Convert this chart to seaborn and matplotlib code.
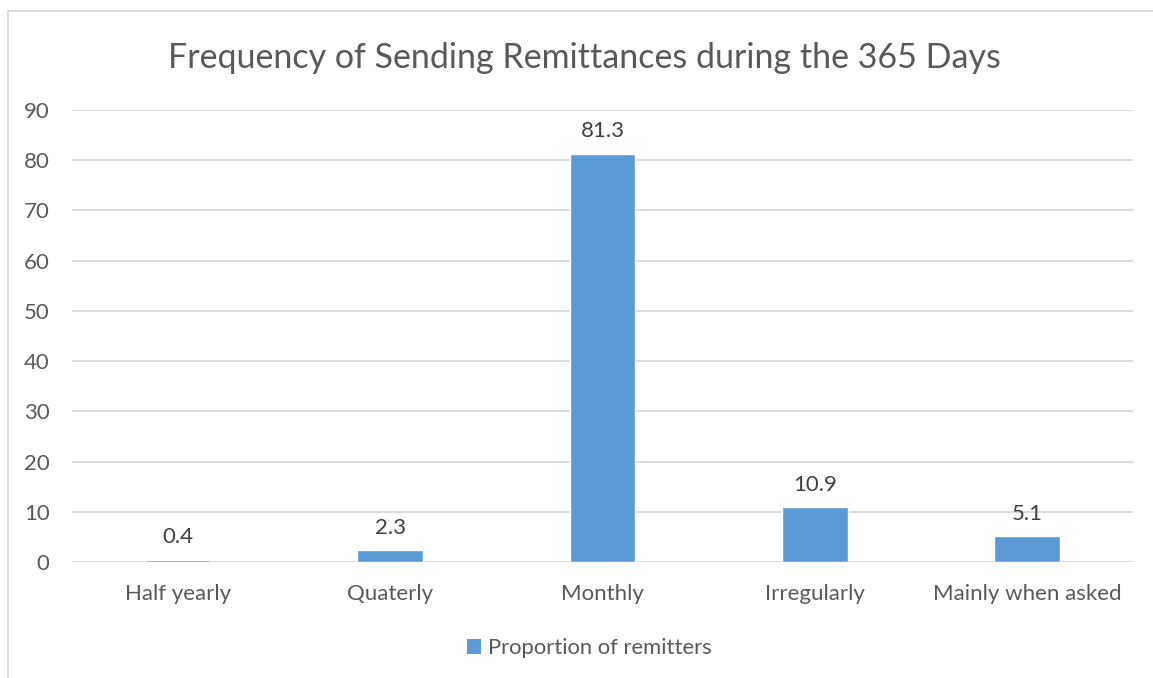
import matplotlib
matplotlib.use("Agg")
import matplotlib.pyplot as plt
from matplotlib.patches import Patch, Rectangle
import seaborn as sns
import pandas as pd

categories = ["Half yearly", "Quaterly", "Monthly", "Irregularly", "Mainly when asked"]
proportion = [0.4, 2.3, 81.3, 10.9, 5.1]
series_name = "Proportion of remitters"
title = "Frequency of Sending Remittances during the 365 Days"
y_ticks = [0, 10, 20, 30, 40, 50, 60, 70, 80, 90]

BAR = "#5B9BD5"
GRID = "#D9D9D9"
TEXT = "#595959"
LABEL = "#404040"

sns.set_theme(style="white")
plt.rcParams["font.family"] = ["Lato", "DejaVu Sans"]

df = pd.DataFrame({"category": categories, "value": proportion})

fig = plt.figure(figsize=(11.53, 6.78), dpi=100)
ax = fig.add_axes([0.0624, 0.1711, 0.9203, 0.6667])

sns.barplot(data=df, x="category", y="value", color=BAR, saturation=1,
            width=0.31, ax=ax, zorder=3)

ax.set_ylim(0, 90)
ax.set_yticks(y_ticks)
ax.set_xlim(-0.5, len(categories) - 0.5)
ax.yaxis.grid(True, color=GRID, linewidth=1.3, zorder=0)
ax.xaxis.grid(False)
for s in ax.spines.values():
    s.set_visible(False)
ax.set_xlabel("")
ax.set_ylabel("")
ax.tick_params(axis="both", length=0, labelsize=16, colors=TEXT)
ax.tick_params(axis="y", pad=16)
ax.tick_params(axis="x", pad=16)

for c in ax.containers:
    ax.bar_label(c, labels=[f"{v:.1f}" for v in proportion], padding=9,
                 fontsize=16, color=LABEL)

fig.text(0.5065, 0.914, title, ha="center", va="center", fontsize=24.5, color=TEXT)

handle = Patch(facecolor=BAR, edgecolor="none")
fig.legend([handle], [series_name], loc="center", bbox_to_anchor=(0.511, 0.044),
           frameon=False, fontsize=15.8, labelcolor=TEXT, handlelength=0.65,
           handleheight=0.7, handletextpad=0.3)

fig.patches.append(Rectangle((8 / 1153, -0.1), 1.2, 1.1 - 11 / 678,
                             transform=fig.transFigure, fill=False,
                             edgecolor=GRID, linewidth=1.3))

fig.savefig("out.png", dpi=100, facecolor="white")
